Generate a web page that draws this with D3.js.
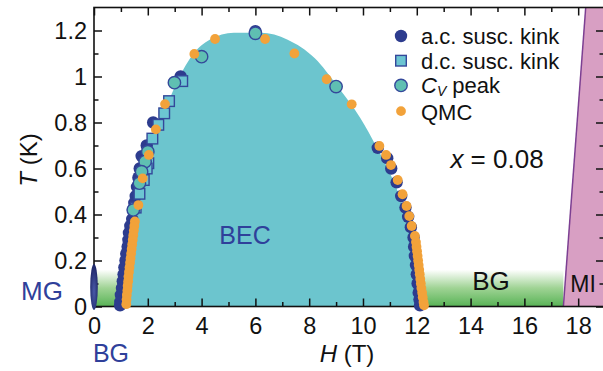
<!DOCTYPE html>
<head>
	<script src="https://d3js.org/d3.v7.min.js"></script>
	<style>
		body { margin: 0; background: #fff; }
		text { font-family: "Liberation Sans", Arial, sans-serif; }
	</style>
</head>
<body>
	<script type="text/javascript">

		var w = 603;
		var h = 371;

		// phase boundary of the BEC dome (H in T, T in K)
		var domeH = [1.2, 1.35, 1.55, 1.8, 2.2, 2.7, 3.1, 3.7, 4.3, 5.2, 6.2, 7.2, 8.2, 9.1, 9.9, 10.5, 11.0, 11.5, 11.8, 12.0];
		var domeT = [0, 0.25, 0.45, 0.58, 0.73, 0.87, 0.98, 1.1, 1.16, 1.19, 1.19, 1.16, 1.08, 0.95, 0.82, 0.695, 0.58, 0.43, 0.3, 0];

		// Bose glass bands (H ranges) and their height
		var bgBands = [[0, 1.0], [12.2, 17.45]];
		var bgTop = 0.16;

		// Mott insulator edge
		var miEdgeH = [17.45, 18.28];
		var miEdgeT = [0, 1.3];

		// a.c. susceptibility kink
		var acH = [6.0, 3.22, 2.2, 1.96, 1.77, 1.7, 1.65, 1.6, 1.55, 1.5, 1.45, 1.42, 1.35, 1.3, 1.28, 1.25, 1.2, 1.17, 1.13, 1.1, 1.07, 1.04, 1.0, 0.98, 0.97,
			10.55, 10.9, 11.05, 11.25, 11.42, 11.58, 11.68, 11.78, 11.88, 11.9, 11.93, 11.97, 12.0, 12.03, 12.07, 12.1, 12.12];
		var acT = [1.197, 1.0, 0.8, 0.7, 0.654, 0.6, 0.56, 0.52, 0.48, 0.45, 0.42, 0.38, 0.35, 0.32, 0.29, 0.26, 0.23, 0.2, 0.17, 0.14, 0.11, 0.08, 0.05, 0.02, 0.005,
			0.69, 0.645, 0.6, 0.54, 0.48, 0.43, 0.39, 0.345, 0.3, 0.26, 0.22, 0.18, 0.14, 0.1, 0.06, 0.03, 0.005];

		// d.c. susceptibility kink
		var dcH = [3.28, 2.79, 2.61, 2.39, 2.17, 2.02, 1.96, 1.85, 1.69, 1.55];
		var dcT = [0.98, 0.893, 0.84, 0.79, 0.73, 0.623, 0.6, 0.55, 0.49, 0.43];

		// specific heat peak
		var cvH = [6.0, 9.0, 4.0, 2.99, 2.0, 1.9, 1.77, 1.69, 1.46];
		var cvT = [1.188, 0.956, 1.086, 0.973, 0.673, 0.63, 0.586, 0.536, 0.42];

		// quantum Monte Carlo
		var qmcH = [4.5, 3.73, 6.36, 7.45, 8.65, 9.58, 2.64, 2.3, 2.04, 1.81, 1.65,
			1.52, 1.5, 1.48, 1.46, 1.44, 1.42, 1.4, 1.38, 1.36, 1.34, 1.32, 1.3, 1.28, 1.27, 1.25, 1.24, 1.22, 1.21, 1.2,
			10.61, 10.86, 11.04, 11.29, 11.47, 11.62, 11.72, 11.81, 11.93,
			11.97, 11.99, 12.01, 12.03, 12.05, 12.07, 12.09, 12.11, 12.13, 12.15, 12.17, 12.2, 12.22, 12.25, 12.27];
		var qmcT = [1.163, 1.098, 1.163, 1.1, 0.988, 0.879, 0.88, 0.77, 0.659, 0.557, 0.441,
			0.37, 0.35, 0.33, 0.31, 0.29, 0.27, 0.25, 0.23, 0.21, 0.19, 0.17, 0.15, 0.13, 0.11, 0.09, 0.07, 0.05, 0.03, 0.01,
			0.698, 0.659, 0.615, 0.55, 0.488, 0.437, 0.393, 0.35, 0.307,
			0.28, 0.26, 0.24, 0.22, 0.2, 0.18, 0.16, 0.14, 0.12, 0.1, 0.08, 0.06, 0.04, 0.02, 0.005];

		var xMajor = [0, 2, 4, 6, 8, 10, 12, 14, 16, 18];
		var xMinor = [1, 3, 5, 7, 9, 11, 13, 15, 17];
		var yMajor = [0, 0.2, 0.4, 0.6, 0.8, 1, 1.2];
		var yMajorLabels = ["0", "0.2", "0.4", "0.6", "0.8", "1", "1.2"];
		var yMinor = [0.1, 0.3, 0.5, 0.7, 0.9, 1.1];

		var navy = "#2d3c8e";
		var labelBlue = "#2f409a";

		var svg = d3.select("body")
				.append("svg")
				.attr("width", w)
				.attr("height", h);

		var xScale = d3.scaleLinear().domain([0, 18.96]).range([94, 604]);
		var yScale = d3.scaleLinear().domain([0, 1.3]).range([306.5, 7.5]);

		var defs = svg.append("defs");
		defs.append("clipPath").attr("id", "plot")
			.append("rect")
			.attr("x", xScale(0)).attr("y", yScale(1.3))
			.attr("width", xScale(18.96) - xScale(0))
			.attr("height", yScale(0) - yScale(1.3));

		var gGreen = defs.append("linearGradient").attr("id", "green")
			.attr("x1", 0).attr("y1", 0).attr("x2", 0).attr("y2", 1);
		gGreen.append("stop").attr("offset", "0%").attr("stop-color", "#ffffff");
		gGreen.append("stop").attr("offset", "50%").attr("stop-color", "#9fd394");
		gGreen.append("stop").attr("offset", "100%").attr("stop-color", "#58b356");

		var gMG = defs.append("radialGradient").attr("id", "mg")
			.attr("cx", "50%").attr("cy", "60%").attr("r", "60%");
		gMG.append("stop").attr("offset", "0%").attr("stop-color", "#4a5aa8");
		gMG.append("stop").attr("offset", "100%").attr("stop-color", "#1c2566");

		var plot = svg.append("g").attr("clip-path", "url(#plot)");

		// Bose glass bands
		plot.selectAll("rect.bg")
			.data(bgBands)
			.enter()
			.append("rect")
			.attr("class", "bg")
			.attr("x", function(d){ return xScale(d[0]); })
			.attr("y", yScale(bgTop))
			.attr("width", function(d){ return xScale(d[1]) - xScale(d[0]); })
			.attr("height", yScale(0) - yScale(bgTop))
			.attr("fill", "url(#green)");

		// Mott insulator region
		var miPts = [[miEdgeH[0], miEdgeT[0]], [miEdgeH[1], miEdgeT[1]], [19.5, miEdgeT[1]], [19.5, miEdgeT[0]]];
		plot.append("path")
			.attr("d", d3.line().x(function(d){ return xScale(d[0]); }).y(function(d){ return yScale(d[1]); })(miPts) + "Z")
			.attr("fill", "#d89fc3");
		plot.append("line")
			.attr("x1", xScale(miEdgeH[0])).attr("y1", yScale(miEdgeT[0]))
			.attr("x2", xScale(miEdgeH[1])).attr("y2", yScale(miEdgeT[1]))
			.attr("stroke", "#7c3f92")
			.attr("stroke-width", 1.5);

		// BEC dome
		var dome = d3.area()
			.x(function(d, i){ return xScale(domeH[i]); })
			.y0(yScale(0))
			.y1(function(d){ return yScale(d); })
			.curve(d3.curveMonotoneX);
		plot.append("path")
			.attr("d", dome(domeT))
			.attr("fill", "#6cc5ce");

		// axes (inward ticks)
		function drawTicks(axis, tx, ty) {
			var g = svg.append("g").attr("transform", "translate(" + tx + "," + ty + ")").call(axis);
			g.select(".domain").remove();
			g.selectAll("line").attr("stroke", "#111").attr("stroke-width", 1.5);
			g.selectAll("text").attr("font-size", "23.5px").attr("fill", "#111");
			return g;
		}
		var noLabel = function(){ return ""; };

		drawTicks(d3.axisBottom(xScale).tickValues(xMajor).tickSize(-8).tickSizeOuter(0).tickPadding(11).tickFormat(d3.format("d")), 0, yScale(0));
		drawTicks(d3.axisBottom(xScale).tickValues(xMinor).tickSize(-4.5).tickSizeOuter(0).tickFormat(noLabel), 0, yScale(0));
		drawTicks(d3.axisTop(xScale).tickValues(xMajor).tickSize(-8).tickSizeOuter(0).tickFormat(noLabel), 0, yScale(1.3));
		drawTicks(d3.axisTop(xScale).tickValues(xMinor).tickSize(-4.5).tickSizeOuter(0).tickFormat(noLabel), 0, yScale(1.3));
		drawTicks(d3.axisLeft(yScale).tickValues(yMajor).tickSize(-8).tickSizeOuter(0).tickPadding(7)
			.tickFormat(function(d, i){ return yMajorLabels[i]; }), xScale(0), 0);
		drawTicks(d3.axisLeft(yScale).tickValues(yMinor).tickSize(-4.5).tickSizeOuter(0).tickFormat(noLabel), xScale(0), 0);
		drawTicks(d3.axisRight(yScale).tickValues(yMajor).tickSize(-8).tickSizeOuter(0).tickFormat(noLabel), xScale(18.96), 0);
		drawTicks(d3.axisRight(yScale).tickValues(yMinor).tickSize(-4.5).tickSizeOuter(0).tickFormat(noLabel), xScale(18.96), 0);

		// frame
		svg.append("rect")
			.attr("x", xScale(0)).attr("y", yScale(1.3))
			.attr("width", xScale(18.96) - xScale(0))
			.attr("height", yScale(0) - yScale(1.3))
			.attr("fill", "none")
			.attr("stroke", "#111")
			.attr("stroke-width", 1.6);

		// MG ellipse at H = 0
		svg.append("ellipse")
			.attr("cx", xScale(0))
			.attr("cy", yScale(0.085))
			.attr("rx", 3.8)
			.attr("ry", yScale(0) - yScale(0.1))
			.attr("fill", "url(#mg)");

		// data markers
		svg.selectAll("circle.ac")
			.data(acH)
			.enter()
			.append("circle")
			.attr("class", "ac")
			.attr("cx", function(d){ return xScale(d); })
			.attr("cy", function(d, i){ return yScale(acT[i]); })
			.attr("r", 6.2)
			.attr("fill", navy);

		svg.selectAll("rect.dc")
			.data(dcH)
			.enter()
			.append("rect")
			.attr("class", "dc")
			.attr("x", function(d){ return xScale(d) - 5.3; })
			.attr("y", function(d, i){ return yScale(dcT[i]) - 5.3; })
			.attr("width", 10.6)
			.attr("height", 10.6)
			.attr("fill", "#6cc5d2")
			.attr("stroke", "#34489a")
			.attr("stroke-width", 1.4);

		svg.selectAll("circle.cv")
			.data(cvH)
			.enter()
			.append("circle")
			.attr("class", "cv")
			.attr("cx", function(d){ return xScale(d); })
			.attr("cy", function(d, i){ return yScale(cvT[i]); })
			.attr("r", 6.2)
			.attr("fill", "#5fbfb2")
			.attr("stroke", "#34489a")
			.attr("stroke-width", 1.4);

		svg.selectAll("circle.qmc")
			.data(qmcH)
			.enter()
			.append("circle")
			.attr("class", "qmc")
			.attr("cx", function(d){ return xScale(d); })
			.attr("cy", function(d, i){ return yScale(qmcT[i]); })
			.attr("r", 4.9)
			.attr("fill", "#f2a23a");

		// legend
		var legend = svg.append("g");
		var lx = 401, ly = 36, lstep = 24.7;
		legend.append("circle").attr("cx", lx).attr("cy", ly).attr("r", 6.2).attr("fill", navy);
		legend.append("rect").attr("x", lx - 5.3).attr("y", ly + lstep - 5.3).attr("width", 10.6).attr("height", 10.6)
			.attr("fill", "#6cc5d2").attr("stroke", "#34489a").attr("stroke-width", 1.4);
		legend.append("circle").attr("cx", lx).attr("cy", ly + 2 * lstep).attr("r", 6.2)
			.attr("fill", "#5fbfb2").attr("stroke", "#34489a").attr("stroke-width", 1.4);
		legend.append("circle").attr("cx", lx).attr("cy", ly + 3 * lstep + 1).attr("r", 4.9).attr("fill", "#f2a23a");

		var lt = legend.append("g").attr("font-size", "22px").attr("fill", "#111");
		lt.append("text").attr("x", 421).attr("y", ly + 8).text("a.c. susc. kink");
		lt.append("text").attr("x", 421).attr("y", ly + lstep + 8).text("d.c. susc. kink");
		var cvt = lt.append("text").attr("x", 421).attr("y", ly + 2 * lstep + 8);
		cvt.append("tspan").attr("font-style", "italic").text("C");
		cvt.append("tspan").attr("font-style", "italic").attr("font-size", "14px").attr("dy", 3).text("V");
		cvt.append("tspan").attr("dy", -3).text(" peak");
		lt.append("text").attr("x", 421).attr("y", ly + 3 * lstep + 10).text("QMC");

		// annotation
		var xt = svg.append("text").attr("x", 497).attr("y", 168).attr("text-anchor", "middle")
			.attr("font-size", "26px").attr("fill", "#111");
		xt.append("tspan").attr("font-style", "italic").text("x");
		xt.append("tspan").text(" = 0.08");

		// region labels
		svg.append("text").attr("x", 245).attr("y", 244).attr("text-anchor", "middle")
			.attr("font-size", "25px").attr("fill", labelBlue).text("BEC");
		svg.append("text").attr("x", 491).attr("y", 290).attr("text-anchor", "middle")
			.attr("font-size", "26px").attr("fill", "#111").text("BG");
		svg.append("text").attr("x", 583).attr("y", 292).attr("text-anchor", "middle")
			.attr("font-size", "23px").attr("fill", "#111").text("MI");
		svg.append("text").attr("x", 42).attr("y", 300).attr("text-anchor", "middle")
			.attr("font-size", "26px").attr("fill", labelBlue).text("MG");
		svg.append("text").attr("x", 111).attr("y", 362).attr("text-anchor", "middle")
			.attr("font-size", "25px").attr("fill", labelBlue).text("BG");

		// axis titles
		var xTitle = svg.append("text").attr("x", 347).attr("y", 362).attr("text-anchor", "middle")
			.attr("font-size", "24px").attr("fill", "#111");
		xTitle.append("tspan").attr("font-style", "italic").text("H");
		xTitle.append("tspan").text(" (T)");

		var yTitle = svg.append("text").attr("transform", "translate(37,160) rotate(-90)")
			.attr("text-anchor", "middle").attr("font-size", "24px").attr("fill", "#111");
		yTitle.append("tspan").attr("font-style", "italic").text("T");
		yTitle.append("tspan").text(" (K)");

	</script>
</body>
